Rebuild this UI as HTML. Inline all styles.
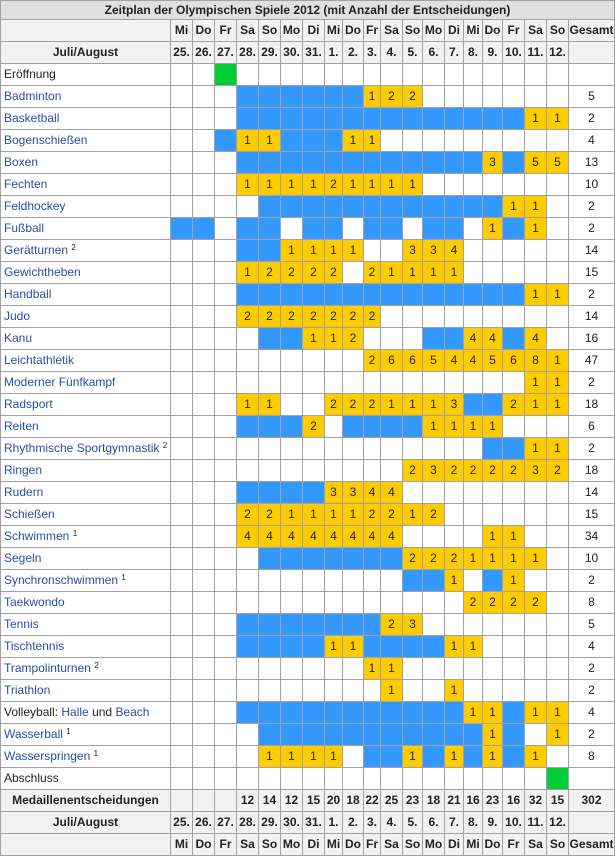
<!DOCTYPE html>
<html><head><meta charset="utf-8">
<style>
body{margin:0;width:615px;height:857px;background:#fff;position:relative;overflow:hidden;font-family:"Liberation Sans",Arial,sans-serif;font-size:12px;color:#222}
.t{position:absolute;left:0;top:0;width:615px;height:20px;box-sizing:border-box;border:1px solid #a2a2a2;border-bottom:1px solid #a2a2a2;background:#e0e0e0;text-align:center;font-weight:bold;line-height:18px}
.r{position:absolute;left:0;height:22px;display:flex}
.r>*{box-sizing:border-box;height:22px;border-right:1px solid #a2a2a2;border-bottom:1px solid #a2a2a2;text-align:center;line-height:21px;font-style:normal;flex:none;white-space:nowrap;overflow:hidden}
.r>:nth-child(1){width:171px;border-left:1px solid #a2a2a2;text-align:left;padding-left:3px}
.r>:nth-child(2),.r>:nth-child(3),.r>:nth-child(4),.r>:nth-child(5),.r>:nth-child(6),.r>:nth-child(7),.r>:nth-child(8){width:22px}
.r>:nth-child(9){width:18px}.r>:nth-child(10){width:21px}.r>:nth-child(11){width:17px}.r>:nth-child(12){width:22px}
.r>:nth-child(13){width:20px}.r>:nth-child(14){width:22px}.r>:nth-child(15){width:19px}.r>:nth-child(16){width:19px}
.r>:nth-child(17){width:20px}.r>:nth-child(18){width:22px}.r>:nth-child(19){width:22px}.r>:nth-child(20){width:22px}
.r>:nth-child(21){width:46px}
.h>*{background:#f2f2f2;font-weight:bold}
.h>:nth-child(1){text-align:center;padding-left:0}
.b{background:#3399ff}.y{background:#ffcc00}.g{background:#00cc33}
a{color:#2a4fa0;text-decoration:none}
sup{font-size:8px;vertical-align:4px;line-height:0}
</style></head><body>
<div class="t">Zeitplan der Olympischen Spiele 2012 (mit Anzahl der Entscheidungen)</div>
<div class="r h" style="top:20px"><i></i><i>Mi</i><i>Do</i><i>Fr</i><i>Sa</i><i>So</i><i>Mo</i><i>Di</i><i>Mi</i><i>Do</i><i>Fr</i><i>Sa</i><i>So</i><i>Mo</i><i>Di</i><i>Mi</i><i>Do</i><i>Fr</i><i>Sa</i><i>So</i><i>Gesamt</i></div>
<div class="r h" style="top:42px"><i>Juli/August</i><i>25.</i><i>26.</i><i>27.</i><i>28.</i><i>29.</i><i>30.</i><i>31.</i><i>1.</i><i>2.</i><i>3.</i><i>4.</i><i>5.</i><i>6.</i><i>7.</i><i>8.</i><i>9.</i><i>10.</i><i>11.</i><i>12.</i><i></i></div>
<div class="r" style="top:64px"><i>Eröffnung</i><i></i><i></i><i class="g"></i><i></i><i></i><i></i><i></i><i></i><i></i><i></i><i></i><i></i><i></i><i></i><i></i><i></i><i></i><i></i><i></i><i></i></div>
<div class="r" style="top:86px"><i><a>Badminton</a></i><i></i><i></i><i></i><i class="b"></i><i class="b"></i><i class="b"></i><i class="b"></i><i class="b"></i><i class="b"></i><i class="y">1</i><i class="y">2</i><i class="y">2</i><i></i><i></i><i></i><i></i><i></i><i></i><i></i><i>5</i></div>
<div class="r" style="top:108px"><i><a>Basketball</a></i><i></i><i></i><i></i><i class="b"></i><i class="b"></i><i class="b"></i><i class="b"></i><i class="b"></i><i class="b"></i><i class="b"></i><i class="b"></i><i class="b"></i><i class="b"></i><i class="b"></i><i class="b"></i><i class="b"></i><i class="b"></i><i class="y">1</i><i class="y">1</i><i>2</i></div>
<div class="r" style="top:130px"><i><a>Bogenschießen</a></i><i></i><i></i><i class="b"></i><i class="y">1</i><i class="y">1</i><i class="b"></i><i class="b"></i><i class="b"></i><i class="y">1</i><i class="y">1</i><i></i><i></i><i></i><i></i><i></i><i></i><i></i><i></i><i></i><i>4</i></div>
<div class="r" style="top:152px"><i><a>Boxen</a></i><i></i><i></i><i></i><i class="b"></i><i class="b"></i><i class="b"></i><i class="b"></i><i class="b"></i><i class="b"></i><i class="b"></i><i class="b"></i><i class="b"></i><i class="b"></i><i class="b"></i><i class="b"></i><i class="y">3</i><i class="b"></i><i class="y">5</i><i class="y">5</i><i>13</i></div>
<div class="r" style="top:174px"><i><a>Fechten</a></i><i></i><i></i><i></i><i class="y">1</i><i class="y">1</i><i class="y">1</i><i class="y">1</i><i class="y">2</i><i class="y">1</i><i class="y">1</i><i class="y">1</i><i class="y">1</i><i></i><i></i><i></i><i></i><i></i><i></i><i></i><i>10</i></div>
<div class="r" style="top:196px"><i><a>Feldhockey</a></i><i></i><i></i><i></i><i></i><i class="b"></i><i class="b"></i><i class="b"></i><i class="b"></i><i class="b"></i><i class="b"></i><i class="b"></i><i class="b"></i><i class="b"></i><i class="b"></i><i class="b"></i><i class="b"></i><i class="y">1</i><i class="y">1</i><i></i><i>2</i></div>
<div class="r" style="top:218px"><i><a>Fußball</a></i><i class="b"></i><i class="b"></i><i></i><i class="b"></i><i class="b"></i><i></i><i class="b"></i><i class="b"></i><i></i><i class="b"></i><i class="b"></i><i></i><i class="b"></i><i class="b"></i><i></i><i class="y">1</i><i class="b"></i><i class="y">1</i><i></i><i>2</i></div>
<div class="r" style="top:240px"><i><a>Gerätturnen</a> <sup>2</sup></i><i></i><i></i><i></i><i class="b"></i><i class="b"></i><i class="y">1</i><i class="y">1</i><i class="y">1</i><i class="y">1</i><i></i><i></i><i class="y">3</i><i class="y">3</i><i class="y">4</i><i></i><i></i><i></i><i></i><i></i><i>14</i></div>
<div class="r" style="top:262px"><i><a>Gewichtheben</a></i><i></i><i></i><i></i><i class="y">1</i><i class="y">2</i><i class="y">2</i><i class="y">2</i><i class="y">2</i><i></i><i class="y">2</i><i class="y">1</i><i class="y">1</i><i class="y">1</i><i class="y">1</i><i></i><i></i><i></i><i></i><i></i><i>15</i></div>
<div class="r" style="top:284px"><i><a>Handball</a></i><i></i><i></i><i></i><i class="b"></i><i class="b"></i><i class="b"></i><i class="b"></i><i class="b"></i><i class="b"></i><i class="b"></i><i class="b"></i><i class="b"></i><i class="b"></i><i class="b"></i><i class="b"></i><i class="b"></i><i class="b"></i><i class="y">1</i><i class="y">1</i><i>2</i></div>
<div class="r" style="top:306px"><i><a>Judo</a></i><i></i><i></i><i></i><i class="y">2</i><i class="y">2</i><i class="y">2</i><i class="y">2</i><i class="y">2</i><i class="y">2</i><i class="y">2</i><i></i><i></i><i></i><i></i><i></i><i></i><i></i><i></i><i></i><i>14</i></div>
<div class="r" style="top:328px"><i><a>Kanu</a></i><i></i><i></i><i></i><i></i><i class="b"></i><i class="b"></i><i class="y">1</i><i class="y">1</i><i class="y">2</i><i></i><i></i><i></i><i class="b"></i><i class="b"></i><i class="y">4</i><i class="y">4</i><i class="b"></i><i class="y">4</i><i></i><i>16</i></div>
<div class="r" style="top:350px"><i><a>Leichtathletik</a></i><i></i><i></i><i></i><i></i><i></i><i></i><i></i><i></i><i></i><i class="y">2</i><i class="y">6</i><i class="y">6</i><i class="y">5</i><i class="y">4</i><i class="y">4</i><i class="y">5</i><i class="y">6</i><i class="y">8</i><i class="y">1</i><i>47</i></div>
<div class="r" style="top:372px"><i><a>Moderner Fünfkampf</a></i><i></i><i></i><i></i><i></i><i></i><i></i><i></i><i></i><i></i><i></i><i></i><i></i><i></i><i></i><i></i><i></i><i></i><i class="y">1</i><i class="y">1</i><i>2</i></div>
<div class="r" style="top:394px"><i><a>Radsport</a></i><i></i><i></i><i></i><i class="y">1</i><i class="y">1</i><i></i><i></i><i class="y">2</i><i class="y">2</i><i class="y">2</i><i class="y">1</i><i class="y">1</i><i class="y">1</i><i class="y">3</i><i class="b"></i><i class="b"></i><i class="y">2</i><i class="y">1</i><i class="y">1</i><i>18</i></div>
<div class="r" style="top:416px"><i><a>Reiten</a></i><i></i><i></i><i></i><i class="b"></i><i class="b"></i><i class="b"></i><i class="y">2</i><i></i><i class="b"></i><i class="b"></i><i class="b"></i><i class="b"></i><i class="y">1</i><i class="y">1</i><i class="y">1</i><i class="y">1</i><i></i><i></i><i></i><i>6</i></div>
<div class="r" style="top:438px"><i><a>Rhythmische Sportgymnastik</a> <sup>2</sup></i><i></i><i></i><i></i><i></i><i></i><i></i><i></i><i></i><i></i><i></i><i></i><i></i><i></i><i></i><i></i><i class="b"></i><i class="b"></i><i class="y">1</i><i class="y">1</i><i>2</i></div>
<div class="r" style="top:460px"><i><a>Ringen</a></i><i></i><i></i><i></i><i></i><i></i><i></i><i></i><i></i><i></i><i></i><i></i><i class="y">2</i><i class="y">3</i><i class="y">2</i><i class="y">2</i><i class="y">2</i><i class="y">2</i><i class="y">3</i><i class="y">2</i><i>18</i></div>
<div class="r" style="top:482px"><i><a>Rudern</a></i><i></i><i></i><i></i><i class="b"></i><i class="b"></i><i class="b"></i><i class="b"></i><i class="y">3</i><i class="y">3</i><i class="y">4</i><i class="y">4</i><i></i><i></i><i></i><i></i><i></i><i></i><i></i><i></i><i>14</i></div>
<div class="r" style="top:504px"><i><a>Schießen</a></i><i></i><i></i><i></i><i class="y">2</i><i class="y">2</i><i class="y">1</i><i class="y">1</i><i class="y">1</i><i class="y">1</i><i class="y">2</i><i class="y">2</i><i class="y">1</i><i class="y">2</i><i></i><i></i><i></i><i></i><i></i><i></i><i>15</i></div>
<div class="r" style="top:526px"><i><a>Schwimmen</a> <sup>1</sup></i><i></i><i></i><i></i><i class="y">4</i><i class="y">4</i><i class="y">4</i><i class="y">4</i><i class="y">4</i><i class="y">4</i><i class="y">4</i><i class="y">4</i><i></i><i></i><i></i><i></i><i class="y">1</i><i class="y">1</i><i></i><i></i><i>34</i></div>
<div class="r" style="top:548px"><i><a>Segeln</a></i><i></i><i></i><i></i><i></i><i class="b"></i><i class="b"></i><i class="b"></i><i class="b"></i><i class="b"></i><i class="b"></i><i class="b"></i><i class="y">2</i><i class="y">2</i><i class="y">2</i><i class="y">1</i><i class="y">1</i><i class="y">1</i><i class="y">1</i><i></i><i>10</i></div>
<div class="r" style="top:570px"><i><a>Synchronschwimmen</a> <sup>1</sup></i><i></i><i></i><i></i><i></i><i></i><i></i><i></i><i></i><i></i><i></i><i></i><i class="b"></i><i class="b"></i><i class="y">1</i><i></i><i class="b"></i><i class="y">1</i><i></i><i></i><i>2</i></div>
<div class="r" style="top:592px"><i><a>Taekwondo</a></i><i></i><i></i><i></i><i></i><i></i><i></i><i></i><i></i><i></i><i></i><i></i><i></i><i></i><i></i><i class="y">2</i><i class="y">2</i><i class="y">2</i><i class="y">2</i><i></i><i>8</i></div>
<div class="r" style="top:614px"><i><a>Tennis</a></i><i></i><i></i><i></i><i class="b"></i><i class="b"></i><i class="b"></i><i class="b"></i><i class="b"></i><i class="b"></i><i class="b"></i><i class="y">2</i><i class="y">3</i><i></i><i></i><i></i><i></i><i></i><i></i><i></i><i>5</i></div>
<div class="r" style="top:636px"><i><a>Tischtennis</a></i><i></i><i></i><i></i><i class="b"></i><i class="b"></i><i class="b"></i><i class="b"></i><i class="y">1</i><i class="y">1</i><i class="b"></i><i class="b"></i><i class="b"></i><i class="b"></i><i class="y">1</i><i class="y">1</i><i></i><i></i><i></i><i></i><i>4</i></div>
<div class="r" style="top:658px"><i><a>Trampolinturnen</a> <sup>2</sup></i><i></i><i></i><i></i><i></i><i></i><i></i><i></i><i></i><i></i><i class="y">1</i><i class="y">1</i><i></i><i></i><i></i><i></i><i></i><i></i><i></i><i></i><i>2</i></div>
<div class="r" style="top:680px"><i><a>Triathlon</a></i><i></i><i></i><i></i><i></i><i></i><i></i><i></i><i></i><i></i><i></i><i class="y">1</i><i></i><i></i><i class="y">1</i><i></i><i></i><i></i><i></i><i></i><i>2</i></div>
<div class="r" style="top:702px"><i>Volleyball: <a>Halle</a> und <a>Beach</a></i><i></i><i></i><i></i><i class="b"></i><i class="b"></i><i class="b"></i><i class="b"></i><i class="b"></i><i class="b"></i><i class="b"></i><i class="b"></i><i class="b"></i><i class="b"></i><i class="b"></i><i class="y">1</i><i class="y">1</i><i class="b"></i><i class="y">1</i><i class="y">1</i><i>4</i></div>
<div class="r" style="top:724px"><i><a>Wasserball</a> <sup>1</sup></i><i></i><i></i><i></i><i></i><i class="b"></i><i class="b"></i><i class="b"></i><i class="b"></i><i class="b"></i><i class="b"></i><i class="b"></i><i class="b"></i><i class="b"></i><i class="b"></i><i class="b"></i><i class="y">1</i><i class="b"></i><i></i><i class="y">1</i><i>2</i></div>
<div class="r" style="top:746px"><i><a>Wasserspringen</a> <sup>1</sup></i><i></i><i></i><i></i><i></i><i class="y">1</i><i class="y">1</i><i class="y">1</i><i class="y">1</i><i></i><i class="b"></i><i class="b"></i><i class="y">1</i><i class="b"></i><i class="y">1</i><i class="b"></i><i class="y">1</i><i class="b"></i><i class="y">1</i><i></i><i>8</i></div>
<div class="r" style="top:768px"><i>Abschluss</i><i></i><i></i><i></i><i></i><i></i><i></i><i></i><i></i><i></i><i></i><i></i><i></i><i></i><i></i><i></i><i></i><i></i><i></i><i class="g"></i><i></i></div>
<div class="r h" style="top:790px"><i>Medaillenentscheidungen</i><i></i><i></i><i></i><i>12</i><i>14</i><i>12</i><i>15</i><i>20</i><i>18</i><i>22</i><i>25</i><i>23</i><i>18</i><i>21</i><i>16</i><i>23</i><i>16</i><i>32</i><i>15</i><i>302</i></div>
<div class="r h" style="top:812px"><i>Juli/August</i><i>25.</i><i>26.</i><i>27.</i><i>28.</i><i>29.</i><i>30.</i><i>31.</i><i>1.</i><i>2.</i><i>3.</i><i>4.</i><i>5.</i><i>6.</i><i>7.</i><i>8.</i><i>9.</i><i>10.</i><i>11.</i><i>12.</i><i></i></div>
<div class="r h" style="top:834px"><i></i><i>Mi</i><i>Do</i><i>Fr</i><i>Sa</i><i>So</i><i>Mo</i><i>Di</i><i>Mi</i><i>Do</i><i>Fr</i><i>Sa</i><i>So</i><i>Mo</i><i>Di</i><i>Mi</i><i>Do</i><i>Fr</i><i>Sa</i><i>So</i><i>Gesamt</i></div>
</body></html>
